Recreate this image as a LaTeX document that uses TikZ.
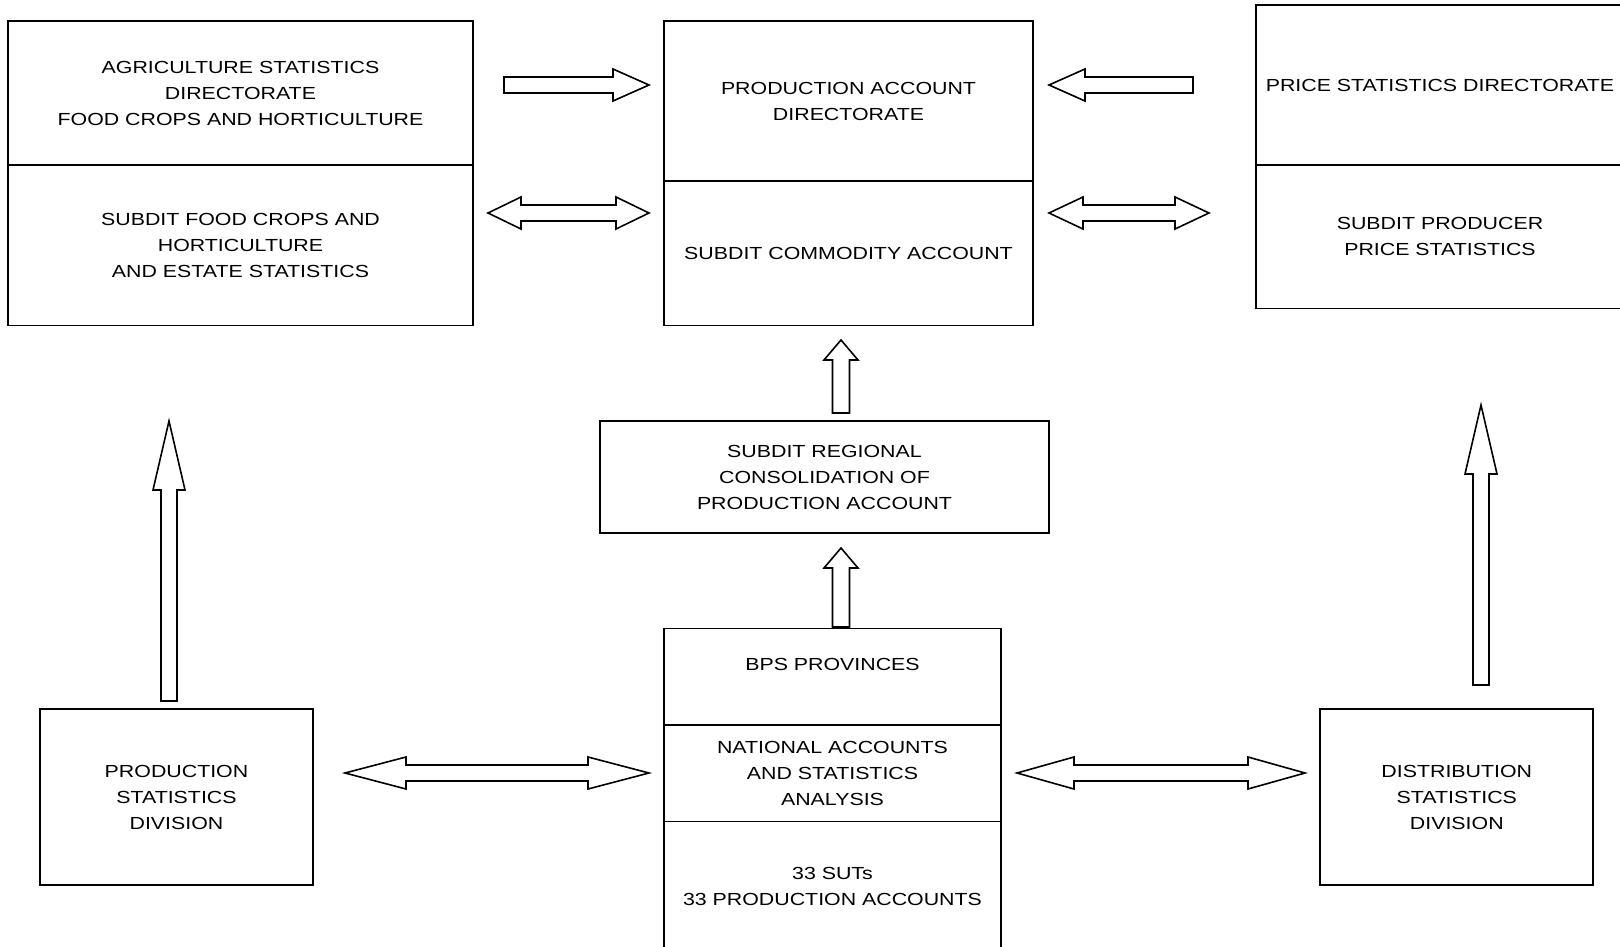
\documentclass[tikz,border=0pt]{standalone}
\usepackage{fontspec}
\setmainfont{Liberation Sans}[FakeStretch=1.22]
\usetikzlibrary{calc,positioning}

\begin{document}
\begin{tikzpicture}[x=1pt, y=-1pt,
    box/.style={draw, line width=1.7pt, inner sep=0pt, outer sep=0pt, align=center,
    font=\fontsize{17.5}{26}\selectfont},
    label text/.style={inner sep=0pt, align=center, font=\fontsize{17.5}{26}\selectfont},
    blockarrow/.style n args={3}{draw, line width=1.6pt, fill=white, to path={
        ($(\tikztotarget)!#1!(\tikztostart)$) coordinate (ahead)
        ($(\tikztostart)!#2!90:(\tikztotarget)$) -- ($(ahead)!#2!90:(\tikztotarget)$)
        -- ($(ahead)!#3!90:(\tikztotarget)$) -- (\tikztotarget)
        -- ($(ahead)!#3!-90:(\tikztotarget)$) -- ($(ahead)!#2!-90:(\tikztotarget)$)
        -- ($(\tikztostart)!#2!-90:(\tikztotarget)$) -- cycle}},
    dblarrow/.style n args={3}{draw, line width=1.6pt, fill=white, to path={
        ($(\tikztostart)!#1!(\tikztotarget)$) coordinate (aheadA)
        ($(\tikztotarget)!#1!(\tikztostart)$) coordinate (aheadB)
        (\tikztostart) -- ($(aheadA)!#3!90:(\tikztotarget)$) -- ($(aheadA)!#2!90:(\tikztotarget)$)
        -- ($(aheadB)!#2!90:(\tikztotarget)$) -- ($(aheadB)!#3!90:(\tikztotarget)$) -- (\tikztotarget)
        -- ($(aheadB)!#3!-90:(\tikztotarget)$) -- ($(aheadB)!#2!-90:(\tikztotarget)$)
        -- ($(aheadA)!#2!-90:(\tikztotarget)$) -- ($(aheadA)!#3!-90:(\tikztotarget)$) -- cycle}}]

    \useasboundingbox (0,0) rectangle (1620,947);

    \node (agritop) [box, minimum width=465pt, minimum height=144pt] at (240.5,93)
    {AGRICULTURE STATISTICS\\ DIRECTORATE\\ FOOD CROPS AND HORTICULTURE};
    \node (agribot) [box, minimum width=465pt, minimum height=160.5pt, below=0pt of agritop]
    {SUBDIT FOOD CROPS AND\\ HORTICULTURE\\ AND ESTATE STATISTICS};

    \node (prodtop) [box, minimum width=369pt, minimum height=160pt] at (848.5,101)
    {PRODUCTION ACCOUNT\\ DIRECTORATE};
    \node (prodbot) [box, minimum width=369pt, minimum height=144.5pt, below=0pt of prodtop]
    {SUBDIT COMMODITY ACCOUNT};

    \node (pricetop) [box, minimum width=368pt, minimum height=160pt] at (1440,85)
    {PRICE STATISTICS DIRECTORATE};
    \node (pricebot) [box, minimum width=368pt, minimum height=143.5pt, below=0pt of pricetop]
    {SUBDIT PRODUCER\\ PRICE STATISTICS};

    \node (regional) [box, minimum width=448.5pt, minimum height=112.5pt] at (824.5,477)
    {SUBDIT REGIONAL\\ CONSOLIDATION OF\\ PRODUCTION ACCOUNT};

    \node (bpstop) [box, minimum width=337pt, minimum height=96.5pt] at (832.5,676.75) {};
    \node (bpslabel) [label text] at ([yshift=-36pt]bpstop.north) {BPS PROVINCES};
    \node (bpsmid) [box, minimum width=337pt, minimum height=96.5pt, below=0pt of bpstop]
    {NATIONAL ACCOUNTS\\ AND STATISTICS\\ ANALYSIS};
    \node (bpsbot) [box, minimum width=337pt, minimum height=130pt, below=0pt of bpsmid]
    {33 SUTs\\ 33 PRODUCTION ACCOUNTS};

    \node (prodstat) [box, minimum width=273pt, minimum height=176.5pt] at (176.5,797)
    {PRODUCTION\\ STATISTICS\\ DIVISION};
    \node (diststat) [box, minimum width=273pt, minimum height=176.5pt] at (1456.8,797)
    {DISTRIBUTION\\ STATISTICS\\ DIVISION};

    \coordinate (agriout) at (504,85);
    \coordinate (prodin) at (649,85);
    \coordinate (agriex) at (488,213);
    \coordinate (prodexl) at (649,213);
    \coordinate (priceout) at (1193,85);
    \coordinate (prodinr) at (1049,85);
    \coordinate (prodexr) at (1049,213);
    \coordinate (priceex) at (1209,213);
    \coordinate (regout) at (841,413);
    \coordinate (prodinb) at (841,340);
    \coordinate (bpsout) at (841,627);
    \coordinate (regin) at (841,548);
    \coordinate (pstatout) at (169,701);
    \coordinate (agriin) at (169,421);
    \coordinate (dstatout) at (1481,685);
    \coordinate (pricein) at (1481,405);
    \coordinate (pstatex) at (345,773);
    \coordinate (bpsexl) at (649,773);
    \coordinate (bpsexr) at (1017,773);
    \coordinate (dstatex) at (1305,773);

    \draw [blockarrow={36pt}{8pt}{16pt}] (agriout) to (prodin);
    \draw [dblarrow={33pt}{8pt}{16pt}] (agriex) to (prodexl);
    \draw [blockarrow={36pt}{8pt}{16pt}] (priceout) to (prodinr);
    \draw [dblarrow={34pt}{8pt}{16pt}] (prodexr) to (priceex);
    \draw [blockarrow={20pt}{8.5pt}{17pt}] (regout) to (prodinb);
    \draw [blockarrow={20pt}{8.5pt}{17pt}] (bpsout) to (regin);
    \draw [blockarrow={69pt}{8pt}{16pt}] (pstatout) to (agriin);
    \draw [blockarrow={69pt}{8pt}{16pt}] (dstatout) to (pricein);
    \draw [dblarrow={61pt}{8pt}{16pt}] (pstatex) to (bpsexl);
    \draw [dblarrow={57pt}{8pt}{16pt}] (bpsexr) to (dstatex);
\end{tikzpicture}
\end{document}
